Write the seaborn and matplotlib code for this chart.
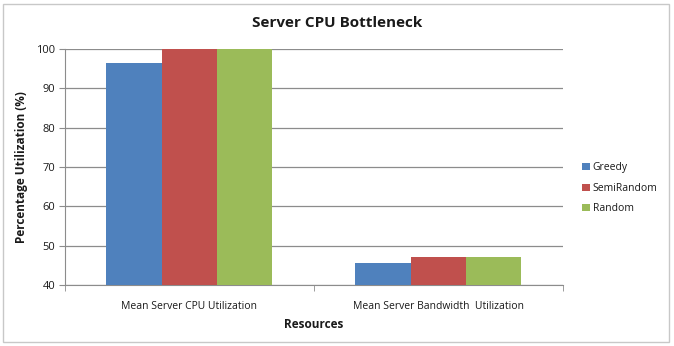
import matplotlib
matplotlib.use("Agg")
import matplotlib.pyplot as plt
import seaborn as sns
import pandas as pd
from matplotlib.patches import Rectangle

# Dados
recursos = ['Mean Server CPU Utilization', 'Mean Server Bandwidth  Utilization']
algoritmos = ['Greedy', 'SemiRandom', 'Random']
greedy = [96.6, 45.6]
semirandom = [100, 47.2]
random_ = [100, 47.2]
cores = ['#4F81BD', '#C0504D', '#9BBB59']

df = pd.DataFrame({
    'Recurso': recursos * 3,
    'Algoritmo': [a for a in algoritmos for _ in recursos],
    'Valor': greedy + semirandom + random_,
})

sns.set_style('white')
plt.rcParams['font.family'] = ['Open Sans', 'DejaVu Sans']
plt.rcParams['text.color'] = '#1a1a1a'
plt.rcParams['axes.labelcolor'] = '#1a1a1a'
plt.rcParams['xtick.color'] = '#1a1a1a'
plt.rcParams['ytick.color'] = '#1a1a1a'

fig = plt.figure(figsize=(6.74, 3.46), dpi=100)
ax = fig.add_axes([0.0964, 0.176, 0.7388, 0.682])

sns.barplot(data=df, x='Recurso', y='Valor', hue='Algoritmo', palette=cores,
            width=0.667, saturation=1, ax=ax, zorder=3,
            linewidth=0, edgecolor='none')

ax.set_ylim(40, 100)
ax.set_yticks(range(40, 101, 10))
ax.set_xlim(-0.5, 1.5)
ax.yaxis.grid(True, color='#8c8c8c', linewidth=0.9, zorder=0)
ax.set_axisbelow(True)
for s in ['top', 'right']:
    ax.spines[s].set_visible(False)
ax.spines['left'].set_color('#8c8c8c')
ax.spines['bottom'].set_color('#8c8c8c')
ax.tick_params(axis='y', left=True, length=4, color='#8c8c8c', labelsize=8, pad=3)
ax.tick_params(axis='x', bottom=False, labelsize=7.5, pad=8)
ax.set_xticks([-0.5, 0.5, 1.5], minor=True)
ax.tick_params(axis='x', which='minor', bottom=True, length=4, color='#8c8c8c')

ax.set_xlabel('Resources', fontsize=8.5, fontweight='bold', labelpad=4)
ax.set_ylabel('Percentage Utilization (%)', fontsize=8.5, fontweight='bold', labelpad=6)
fig.suptitle('Server CPU Bottleneck', fontsize=11, fontweight='bold', y=0.955)

ax.legend(loc='center left', bbox_to_anchor=(1.02, 0.41), frameon=False,
          fontsize=7.5, handlelength=0.7, handleheight=0.7, handletextpad=0.3,
          labelspacing=0.9)

fig.patches.append(Rectangle((0.005, 0.012), 0.987, 0.975, transform=fig.transFigure,
                             fill=False, edgecolor='#c8c8c8', linewidth=1))

fig.savefig('out.png', dpi=100)
